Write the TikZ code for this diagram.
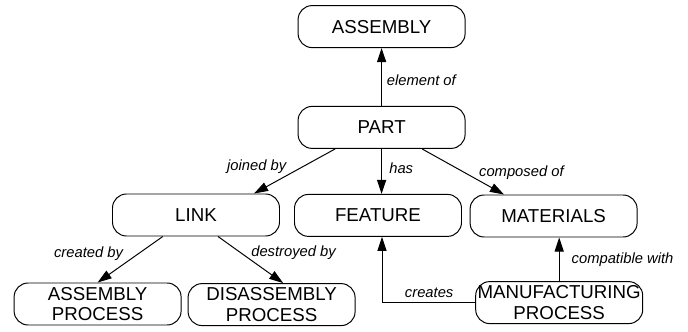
\documentclass[tikz,border=0pt]{standalone}
\usepackage{fontspec}
\setmainfont{Liberation Sans}
\usepackage{tikz}
\usetikzlibrary{arrows.meta,positioning}

\begin{document}
\begin{tikzpicture}[
    concept/.style={rectangle, rounded corners=0.35cm, draw=black, line width=0.7pt,
                    minimum width=4.175cm, minimum height=1.05cm, inner sep=0pt,
                    align=center, font=\fontsize{13.3}{14.4}\selectfont},
    rel/.style={line width=0.7pt, -{Triangle[length=10pt,width=6.5pt]}},
    lbl/.style={inner sep=0pt, font=\fontsize{10.5}{12}\selectfont\itshape},
]
    \useasboundingbox (0,0) rectangle (17.2,8.275);

    % Concepts
    \node[concept] (assembly) at (9.54,7.61) {ASSEMBLY};
    \node[concept] (part) at (9.54,5.09) {PART};

    \node[concept] (link) at (4.9,2.9) {LINK};
    \node[concept] (feature) at (9.45,2.89) {FEATURE};
    \node[concept] (materials) at (13.84,2.875) {MATERIALS};

    \node[concept] (asmproc) at (2.44,0.675) {ASSEMBLY\\PROCESS};
    \node[concept] (disproc) at (6.79,0.66) {DISASSEMBLY\\PROCESS};
    \node[concept] (manuf) at (13.98,0.71) {MANUFACTURING\\PROCESS};

    % Relations
    \draw[rel] (part.north) -- (part.north |- assembly.south)
        node[lbl, pos=0.45, right=0.12cm] (elemof) {element of};
    \draw[rel] ([xshift=-1.16cm]part.south) -- ([xshift=1.45cm]link.north)
        node[lbl, pos=0.4, left=0.4cm] (joined) {joined by};
    \draw[rel] (part.south) -- (part.south |- feature.north)
        node[lbl, pos=0.42, right=0.18cm] (has) {has};
    \draw[rel] ([xshift=1.01cm]part.south) -- ([xshift=-1.24cm]materials.north)
        node[lbl, pos=0.52, right=0.35cm] (composed) {composed of};

    \draw[rel] ([xshift=-0.83cm]link.south) -- (asmproc.north)
        node[lbl, pos=0.37, left=0.38cm] (created) {created by};
    \draw[rel] ([xshift=0.55cm]link.south) -- ([xshift=0.29cm]disproc.north)
        node[lbl, pos=0.35, right=0.25cm] (destroyed) {destroyed by};

    \draw[rel] (manuf.west) -| ([xshift=0.1cm]feature.south)
        node[lbl, pos=0.247, above=0.12cm] (creates) {creates};
    \draw[rel] (manuf.north) -- (manuf.north |- materials.south)
        node[lbl, pos=0.5, right=0.3cm] (compat) {compatible with};
\end{tikzpicture}
\end{document}
